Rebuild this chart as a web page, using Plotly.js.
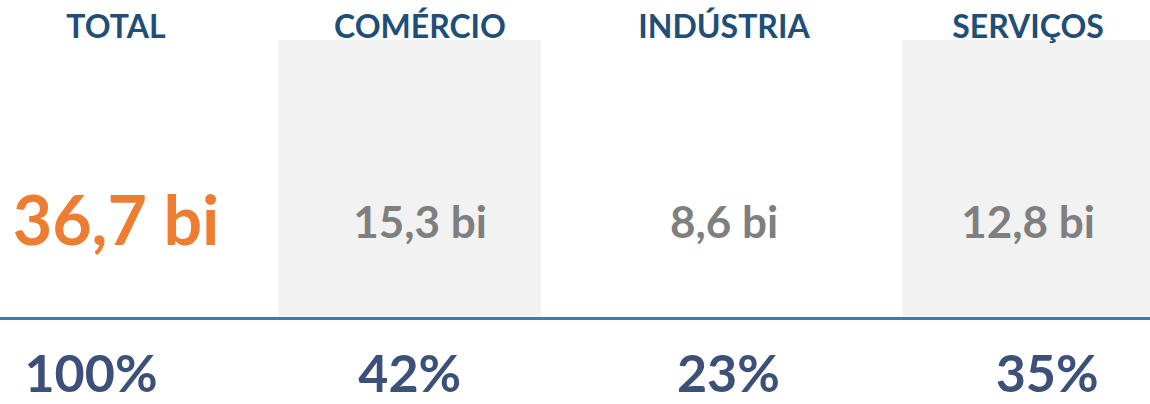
<!DOCTYPE html>
<html>
<head>
<meta charset="utf-8">
<script src="https://cdn.plot.ly/plotly-3.0.1.min.js"></script>
<style>html,body{margin:0;padding:0;background:#fff;}#chart{width:1150px;height:404px;}</style>
</head>
<body>
<div id="chart"></div>
<script>
// Data
var categories = ['TOTAL', 'COMÉRCIO', 'INDÚSTRIA', 'SERVIÇOS'];
var valuesBi = [36.7, 15.3, 8.6, 12.8];
var sharePct = [100, 42, 23, 35];
var shadedColumns = ['COMÉRCIO', 'SERVIÇOS'];

// Layout constants
var W = 1150, H = 404;
var colPx = 304, firstPx = 116;        // main axis (headers/values)
var pctColPx = 318.7, pctFirstPx = 91; // percent row axis
var boxColPx = 312, boxFirstPx = 97.5, boxWidthPx = 263; // shaded columns axis
var idx = categories.map(function (c, i) { return i; });

function fmt(v) { return v.toFixed(1).replace('.', ',') + ' bi'; }

var headerTrace = {
  x: idx, y: categories.map(function () { return 30; }),
  text: categories, mode: 'text', type: 'scatter',
  textfont: { family: 'Lato', size: 32, weight: 700, color: '#1f4e79' },
  hoverinfo: 'none', cliponaxis: false, showlegend: false
};

var valueTrace = {
  x: idx, y: valuesBi.map(function (v, i) { return i === 0 ? 228 : 227; }),
  text: valuesBi.map(fmt), mode: 'text', type: 'scatter',
  textfont: {
    family: 'Lato', weight: 700,
    size: valuesBi.map(function (v, i) { return i === 0 ? 68 : 44; }),
    color: valuesBi.map(function (v, i) { return i === 0 ? '#ed7d31' : '#7f7f7f'; })
  },
  hoverinfo: 'none', cliponaxis: false, showlegend: false
};

var pctTrace = {
  x: idx, y: sharePct.map(function () { return 379; }),
  text: sharePct.map(function (p) { return p + '%'; }),
  mode: 'text', type: 'scatter', xaxis: 'x2',
  textfont: { family: 'Lato', size: 52, weight: 700, color: '#3c5079' },
  hoverinfo: 'none', cliponaxis: false, showlegend: false
};

var halfBox = boxWidthPx / boxColPx / 2;
var shapes = [];
categories.forEach(function (c, i) {
  if (shadedColumns.indexOf(c) >= 0) {
    shapes.push({
      type: 'rect', xref: 'x3', yref: 'y', layer: 'below',
      x0: i - halfBox, x1: i + halfBox, y0: 40, y1: 317,
      fillcolor: '#f2f2f2', line: { width: 0 }
    });
  }
});
shapes.push({
  type: 'line', xref: 'paper', yref: 'y', x0: 0, x1: 1, y0: 318.5, y1: 318.5,
  line: { color: '#4472c4', width: 3 }
});

function rng(first, col) { var a = -first / col; return [a, a + W / col]; }

var layout = {
  width: W, height: H,
  margin: { l: 0, r: 0, t: 0, b: 0, pad: 0 },
  paper_bgcolor: '#ffffff', plot_bgcolor: '#ffffff',
  xaxis: { range: rng(firstPx, colPx), visible: false, fixedrange: true },
  xaxis2: { range: rng(pctFirstPx, pctColPx), visible: false, overlaying: 'x', fixedrange: true },
  xaxis3: { range: rng(boxFirstPx, boxColPx), visible: false, overlaying: 'x', fixedrange: true },
  yaxis: { range: [H, 0], visible: false, fixedrange: true },
  shapes: shapes,
  showlegend: false
};

Plotly.newPlot('chart', [headerTrace, valueTrace, pctTrace], layout, { displayModeBar: false, staticPlot: true });
</script>
</body>
</html>
